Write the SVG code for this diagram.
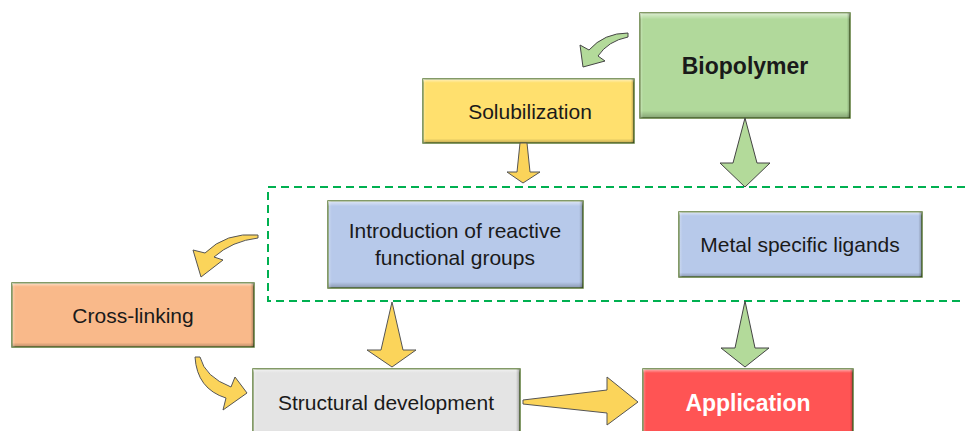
<svg xmlns="http://www.w3.org/2000/svg" width="965" height="431" viewBox="0 0 965 431">
<defs>
<linearGradient id="bv" x1="0" y1="0" x2="0" y2="1">
<stop offset="0" stop-color="#fff" stop-opacity="0.55"/>
<stop offset="0.06" stop-color="#fff" stop-opacity="0"/>
<stop offset="0.93" stop-color="#000" stop-opacity="0"/>
<stop offset="1" stop-color="#000" stop-opacity="0.25"/>
</linearGradient>
<linearGradient id="bh" x1="0" y1="0" x2="1" y2="0">
<stop offset="0" stop-color="#fff" stop-opacity="0.3"/>
<stop offset="0.015" stop-color="#fff" stop-opacity="0"/>
<stop offset="0.985" stop-color="#000" stop-opacity="0"/>
<stop offset="1" stop-color="#000" stop-opacity="0.3"/>
</linearGradient>
</defs>
<style>
.box{stroke:#5b7a36;stroke-width:1.5}
.bv{fill:url(#bv)}
.bh{fill:url(#bh)}
.t{font-family:"Liberation Sans",Arial,sans-serif;font-size:21px;fill:#1a1a1a;text-anchor:middle}
.b{font-weight:bold;font-size:23px}
.ya{fill:#fbd45a;stroke:#555;stroke-width:1}
.ga{fill:#b3da9a;stroke:#444;stroke-width:1}
.dash{fill:none;stroke:#00b050;stroke-width:2;stroke-dasharray:8 5}
</style>

<rect class="dash" x="268" y="187" width="705" height="114"/>

<g id="biopolymer">
<rect class="box" x="640" y="13" width="210" height="105" fill="#b1d99b"/>
<rect class="bv" x="640" y="13" width="210" height="105"/>
<rect class="bh" x="640" y="13" width="210" height="105"/>
<text class="t b" x="745" y="74">Biopolymer</text>
</g>

<g id="solubilization">
<rect class="box" x="423" y="79" width="211" height="64" fill="#ffe06e"/>
<rect class="bv" x="423" y="79" width="211" height="64"/>
<rect class="bh" x="423" y="79" width="211" height="64"/>
<text class="t" x="530" y="119">Solubilization</text>
</g>

<g id="introduction">
<rect class="box" x="328" y="201" width="255" height="87" fill="#b7c9ea"/>
<rect class="bv" x="328" y="201" width="255" height="87"/>
<rect class="bh" x="328" y="201" width="255" height="87"/>
<text class="t" x="455" y="238">Introduction of reactive</text>
<text class="t" x="455" y="265">functional groups</text>
</g>

<g id="metal">
<rect class="box" x="679" y="212" width="243" height="65" fill="#b7c9ea"/>
<rect class="bv" x="679" y="212" width="243" height="65"/>
<rect class="bh" x="679" y="212" width="243" height="65"/>
<text class="t" x="800" y="252">Metal specific ligands</text>
</g>

<g id="crosslinking">
<rect class="box" x="12" y="283" width="242" height="64" fill="#f9b98a"/>
<rect class="bv" x="12" y="283" width="242" height="64"/>
<rect class="bh" x="12" y="283" width="242" height="64"/>
<text class="t" x="133" y="323">Cross-linking</text>
</g>

<g id="structural">
<rect class="box" x="253" y="369" width="267" height="66" fill="#e4e4e4"/>
<rect class="bv" x="253" y="369" width="267" height="66"/>
<rect class="bh" x="253" y="369" width="267" height="66"/>
<text class="t" x="386" y="410">Structural development</text>
</g>

<g id="application">
<rect class="box" x="643" y="369" width="210" height="66" fill="#ff5454"/>
<rect class="bv" x="643" y="369" width="210" height="66"/>
<rect class="bh" x="643" y="369" width="210" height="66"/>
<text class="t b" x="748" y="411" fill="#fff" style="fill:#fff">Application</text>
</g>

<g id="connectors">
<path class="ga" d="M628,33 Q604,33 589,50 L580,45 L583,67 L605,61 L598,56 Q608,41 628,37 Z"/>
<path class="ga" d="M745,118 L757,163 L770,163 L745,187 L720,163 L733,163 Z"/>
<path class="ya" d="M520,143 L527,143 L530,172 L540,172 L523,183 L507,172 L517,172 Z"/>
<path class="ya" d="M258,235 Q226,232 205,253 L193,250 L201,277 L223,260 L214,257 Q232,241 258,238 Z"/>
<path class="ya" d="M195,357 Q197,389 226,398 L223,410 L247,393 L235,377 L231,387 Q205,377 200,357 Z"/>
<path class="ya" d="M392,302 L403,350 L416,350 L392,367 L367,350 L381,350 Z"/>
<path class="ga" d="M745,301 L755,348 L769,348 L745,367 L721,348 L735,348 Z"/>
<path class="ya" d="M523,400 L607,390 L607,377 L638,402 L607,425 L607,413 L523,404 Z"/>
</g>
</svg>
